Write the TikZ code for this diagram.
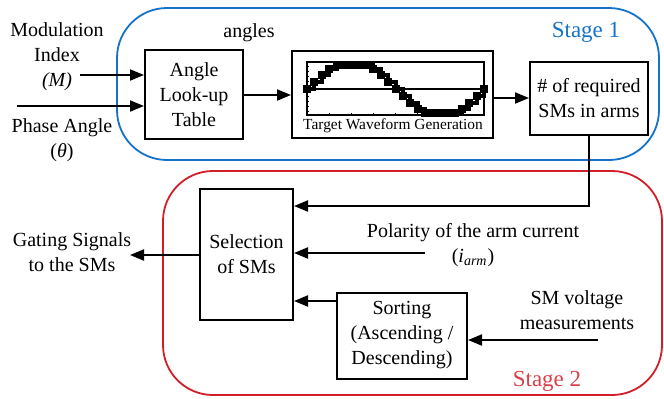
\documentclass[tikz,border=0pt]{standalone}
\usepackage{fontspec}
\setmainfont{Liberation Serif}
\usetikzlibrary{arrows.meta}
\definecolor{stageblue}{RGB}{20,115,200}
\definecolor{stagered}{RGB}{210,30,40}

\begin{document}
\begin{tikzpicture}[
        x = 0.5pt, y = -0.5pt,
        font = \fontsize{10}{12.5}\selectfont,
        block/.style = {draw, line width = 1pt, align = center, inner sep = 1pt},
        sig/.style = {line width = 1pt, -{Triangle[length = 7pt, width = 5.5pt]}},
        frame/.style = {line width = 0.9pt, rounded corners = 25pt},
        stagetxt/.style = {font = \fontsize{11.5}{13}\selectfont}
    ]
        \useasboundingbox (0,0) rectangle (664,398);

        % the two stages
        \draw[frame, stageblue] (117,8) rectangle (659,160);
        \draw[frame, stagered] (163,171) rectangle (662,395);
        \node[stagetxt, stageblue] (S1) at (586,32) {Stage 1};
        \node[stagetxt, stagered!85!white] (S2) at (547,381) {Stage 2};

        % stage 1
        \node[block, minimum width = 49pt, minimum height = 44.5pt] (table) at (194,94.5) {Angle\\Look-up\\Table};
        \node[block, minimum width = 100.5pt, minimum height = 43.5pt] (wave) at (392.5,94.5) {};
        \node[block, minimum width = 59pt, minimum height = 36.5pt] (sms) at (589,98.5) {\# of required\\SMs in arms};
        \node (angles) at (249,33) {angles};

        \draw[line width = 0.8pt] (307,62) rectangle (484,115);
        \draw[line width = 0.8pt] (307,89) -- (484,89);
        \foreach \t in {66,71,...,111} \draw[line width = 0.4pt] (307,\t) -- (309,\t);
        \foreach \t in {329,351,...,483} \draw[line width = 0.4pt] (\t,115) -- (\t,113);
        \draw[line width = 2pt, const plot]
            plot[domain = 0:360, samples = 25, variable = \a] ({307 + \a/360*177},{89 - 24*max(-1,min(1,1.15*sin(\a)))});
        \foreach \k in {0,...,24} {
            \pgfmathsetmacro\wx{307 + \k*177/24}
            \pgfmathsetmacro\wy{89 - 24*max(-1,min(1,1.15*sin(\k*15)))}
            \fill (\wx,\wy) ++(-4,-4) rectangle ++(8,8);
        }
        \node[font = \fontsize{7.7}{9}\selectfont] (wlabel) at (393,126) {Target Waveform Generation};

        \coordinate (m-in) at (80,75);
        \coordinate (th-in) at (17,106);
        \node[align = center] (mlabel) at (57,57) {Modulation\\Index\\\textit{(M)}};
        \node[align = center] (thlabel) at (62,140) {Phase Angle\\(\textit{θ})};

        \draw[sig] (m-in) -- (m-in -| table.west);
        \draw[sig] (th-in) -- (th-in -| table.west);
        \draw[sig] (table.east |- 0,95) -- (wave.west |- 0,95);
        \draw[sig] (wave.east |- 0,98) -- (sms.west |- 0,98);

        % stage 2
        \node[block, minimum width = 46.5pt, minimum height = 65.5pt] (sel) at (246.5,254.5) {Selection\\of SMs};
        \node[block, minimum width = 65pt, minimum height = 43pt] (sort) at (402,335.5) {Sorting\\(Ascending /\\Descending)};
        \node[align = center] (pol) at (473,245) {Polarity of the arm current\\(\textit{i}\textsubscript{\textit{arm}})};
        \node[align = center] (vm) at (577,310) {SM voltage\\measurements};
        \node[align = center] (gate) at (72,252) {Gating Signals\\to the SMs};

        \coordinate (pol-in) at (425,253);
        \coordinate (vm-in) at (598,340);
        \coordinate (gate-out) at (130,255);

        \draw[sig] (sms.south) |- (sel.east |- 0,206);
        \draw[sig] (pol-in) -- (pol-in -| sel.east);
        \draw[sig] (sort.west |- 0,301) -- (sel.east |- 0,301);
        \draw[sig] (vm-in) -- (vm-in -| sort.east);
        \draw[sig] (sel.west |- gate-out) -- (gate-out);

    \end{tikzpicture}
\end{document}
